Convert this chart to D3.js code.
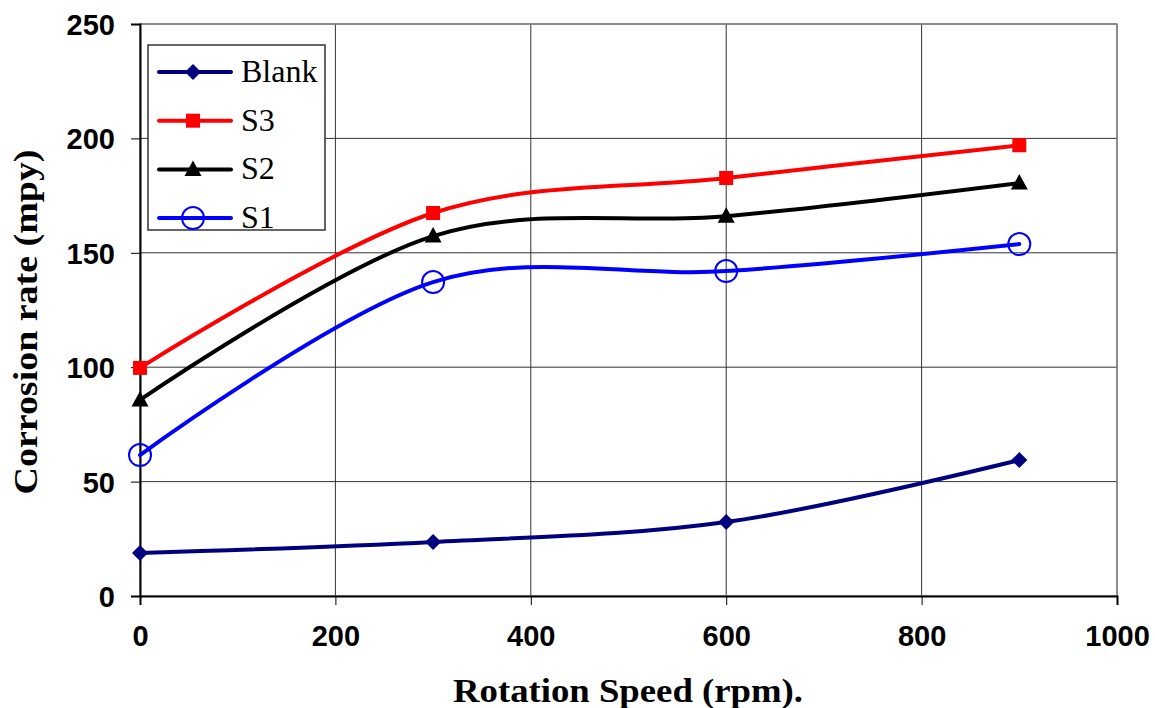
<!DOCTYPE html>
<html>
<head>
<meta charset="utf-8">
<script src="https://cdn.jsdelivr.net/npm/d3@7"></script>
<style>
  body { margin: 0; background: #fff; }
</style>
</head>
<body>
<div id="plot"></div>
<script>
// data
const speeds = [0, 300, 600, 900];
const blank = [18.8, 23.6, 32.3, 59.4];
const s3 = [99.7, 167.4, 182.7, 197];
const s2 = [85.7, 157.3, 166, 180.5];
const s1 = [61.6, 137.2, 142, 153.8];
const seriesNames = ['Blank', 'S3', 'S2', 'S1'];
const xTicks = [0, 200, 400, 600, 800, 1000];
const yTicks = [0, 50, 100, 150, 200, 250];

const width = 1155;
const height = 708;
const plotLeft = 140, plotRight = 1117, plotTop = 24, plotBottom = 596;

const svg = d3.select('#plot')
  .append('svg')
  .attr('width', width)
  .attr('height', height);

const xScale = d3.scaleLinear().domain([0, 1000]).range([plotLeft, plotRight]);
const yScale = d3.scaleLinear().domain([0, 250]).range([plotBottom, plotTop]);

// grid
svg.append('g').selectAll('line')
  .data(yTicks.filter(d => d > 0))
  .enter().append('line')
  .attr('x1', plotLeft).attr('x2', plotRight)
  .attr('y1', d => yScale(d)).attr('y2', d => yScale(d))
  .attr('stroke', '#333').attr('stroke-width', 1);

svg.append('g').selectAll('line')
  .data(xTicks.filter(d => d > 0))
  .enter().append('line')
  .attr('y1', plotTop).attr('y2', plotBottom)
  .attr('x1', d => xScale(d)).attr('x2', d => xScale(d))
  .attr('stroke', '#333').attr('stroke-width', 1);

// plot frame
svg.append('rect')
  .attr('x', plotLeft).attr('y', plotTop)
  .attr('width', plotRight - plotLeft).attr('height', plotBottom - plotTop)
  .attr('fill', 'none').attr('stroke', '#888').attr('stroke-width', 1.5);

// axes
const yAxis = svg.append('g')
  .attr('transform', `translate(${plotLeft},0)`)
  .call(d3.axisLeft(yScale).tickValues(yTicks).tickSize(9).tickPadding(16));
const xAxis = svg.append('g')
  .attr('transform', `translate(0,${plotBottom})`)
  .call(d3.axisBottom(xScale).tickValues(xTicks).tickFormat(d3.format('d'))
    .tickSize(9).tickPadding(20));

[yAxis, xAxis].forEach(a => {
  a.select('.domain').attr('stroke', '#000').attr('stroke-width', 2);
  a.selectAll('.tick line').attr('stroke', '#000').attr('stroke-width', 1);
  a.selectAll('text')
    .attr('fill', '#000')
    .style('font-family', 'Liberation Sans, Arial, sans-serif')
    .style('font-weight', 'bold')
    .style('font-size', '29px');
});
yAxis.selectAll('.tick text').attr('dy', '0.36em');

// axis titles
svg.append('text')
  .attr('x', 628).attr('y', 702)
  .attr('text-anchor', 'middle')
  .attr('textLength', 350)
  .attr('lengthAdjust', 'spacingAndGlyphs')
  .style('font-family', 'Liberation Serif, Times New Roman, serif')
  .style('font-weight', 'bold')
  .style('font-size', '33px')
  .text('Rotation Speed (rpm).');

svg.append('text')
  .attr('transform', 'translate(37,322) rotate(-90)')
  .attr('text-anchor', 'middle')
  .attr('textLength', 345)
  .attr('lengthAdjust', 'spacingAndGlyphs')
  .style('font-family', 'Liberation Serif, Times New Roman, serif')
  .style('font-weight', 'bold')
  .style('font-size', '33px')
  .text('Corrosion rate (mpy)');

// series
const series = [
  { name: seriesNames[0], values: blank, color: '#00007f', marker: 'diamond' },
  { name: seriesNames[1], values: s3, color: '#ff0000', marker: 'square' },
  { name: seriesNames[2], values: s2, color: '#000000', marker: 'triangle' },
  { name: seriesNames[3], values: s1, color: '#0000ff', marker: 'circle' },
];

const line = d3.line()
  .x(d => xScale(d[0]))
  .y(d => yScale(d[1]))
  .curve(d3.curveCardinal.tension(0));

function drawMarker(g, type, color) {
  if (type === 'diamond') {
    g.append('path').attr('d', 'M0,-8L8,0L0,8L-8,0Z').attr('fill', color);
  } else if (type === 'square') {
    g.append('rect').attr('x', -7).attr('y', -7).attr('width', 14).attr('height', 14)
      .attr('fill', color);
  } else if (type === 'triangle') {
    g.append('path').attr('d', 'M0,-9L8.5,6.5L-8.5,6.5Z').attr('fill', color);
  } else {
    g.append('circle').attr('r', 11).attr('fill', 'none')
      .attr('stroke', color).attr('stroke-width', 2);
  }
}

series.slice().reverse().forEach(s => {
  const pts = speeds.map((x, i) => [x, s.values[i]]);
  svg.append('path')
    .datum(pts)
    .attr('d', line)
    .attr('fill', 'none')
    .attr('stroke', s.color)
    .attr('stroke-width', 4)
    .attr('stroke-linecap', 'round');
  pts.forEach(p => {
    const g = svg.append('g').attr('transform', `translate(${xScale(p[0])},${yScale(p[1])})`);
    drawMarker(g, s.marker, s.color);
  });
});

// legend
const legend = svg.append('g');
legend.append('rect')
  .attr('x', 148).attr('y', 45).attr('width', 177).attr('height', 185)
  .attr('fill', '#fff').attr('stroke', '#333').attr('stroke-width', 1.5);

series.forEach((s, i) => {
  const y = 72 + i * 48.7;
  legend.append('line')
    .attr('x1', 159).attr('x2', 231).attr('y1', y).attr('y2', y)
    .attr('stroke', s.color).attr('stroke-width', 4)
    .attr('stroke-linecap', 'round');
  const g = legend.append('g').attr('transform', `translate(193,${y})`);
  drawMarker(g, s.marker, s.color);
  legend.append('text')
    .attr('x', 241).attr('y', y + 10)
    .style('font-family', 'Liberation Serif, Times New Roman, serif')
    .style('font-size', '32px')
    .text(s.name);
});
</script>
</body>
</html>
